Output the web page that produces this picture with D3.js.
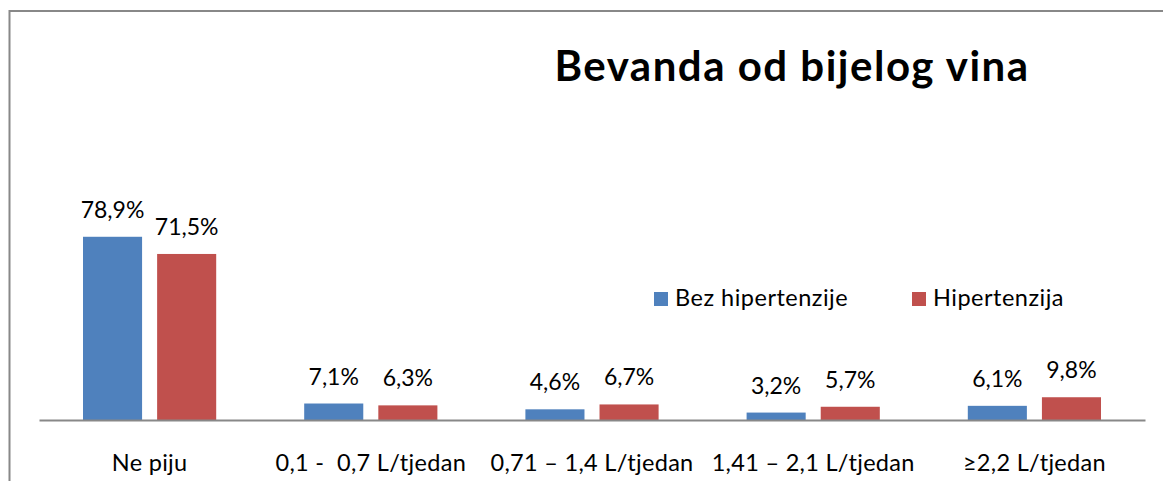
<!DOCTYPE html>
<html>
<head>
<meta charset="utf-8">
<script src="https://cdn.jsdelivr.net/npm/d3@7"></script>
<style>
  body { margin: 0; background: #fff; }
  svg { display: block; font-family: Lato, "Open Sans", sans-serif; }
  text { white-space: pre; }
</style>
</head>
<body>
<div id="chart"></div>
<script>
// ---- data ----
const categories = ['Ne piju', '0,1 -  0,7 L/tjedan', '0,71 \u2013 1,4 L/tjedan', '1,41 \u2013 2,1 L/tjedan', '\u22652,2 L/tjedan'];
const seriesNames = ['Bez hipertenzije', 'Hipertenzija'];
const bezHipertenzije = [78.9, 7.1, 4.6, 3.2, 6.1];
const hipertenzija = [71.5, 6.3, 6.7, 5.7, 9.8];
const colors = ['#4F81BD', '#C0504D'];
const title = 'Bevanda od bijelog vina';

// ---- dimensions ----
const width = 1163, height = 481;
const plot = { left: 39, right: 1145, bottom: 420, top: 211 };

const svg = d3.select('#chart').append('svg')
  .attr('width', width)
  .attr('height', height);

// outer frame (right/bottom edges fall outside the window)
svg.append('rect')
  .attr('x', 9.5).attr('y', 11)
  .attr('width', 1300).attr('height', 600)
  .attr('fill', 'none')
  .attr('stroke', '#888')
  .attr('stroke-width', 2);

const x0 = d3.scaleBand()
  .domain(categories)
  .range([plot.left, plot.right]);

const x1 = d3.scaleBand()
  .domain(seriesNames)
  .range([44, x0.bandwidth() - 44])
  .paddingInner(0.203);

const y = d3.scaleLinear()
  .domain([0, 90])
  .range([plot.bottom, plot.top]);

const rows = categories.map((c, i) => ({
  cat: c,
  vals: [
    { s: seriesNames[0], v: bezHipertenzije[i], c: colors[0] },
    { s: seriesNames[1], v: hipertenzija[i], c: colors[1] }
  ]
}));

const groups = svg.selectAll('g.group')
  .data(rows)
  .enter()
  .append('g')
    .attr('class', 'group')
    .attr('transform', d => 'translate(' + x0(d.cat) + ',0)');

groups.selectAll('rect')
  .data(d => d.vals)
  .enter()
  .append('rect')
    .attr('x', d => x1(d.s))
    .attr('y', d => y(d.v))
    .attr('width', x1.bandwidth())
    .attr('height', d => y(0) - y(d.v))
    .attr('fill', d => d.c);

// value labels
groups.selectAll('text.val')
  .data(d => d.vals)
  .enter()
  .append('text')
    .attr('class', 'val')
    .attr('x', d => x1(d.s) + x1.bandwidth() / 2)
    .attr('y', d => y(d.v) - 19)
    .attr('text-anchor', 'middle')
    .style('font-size', '23px')
    .attr('fill', '#000')
    .text(d => d3.format('.1f')(d.v).replace('.', ',') + '%');

// x axis (baseline + category labels)
const xAxis = svg.append('g')
  .attr('transform', 'translate(0,' + plot.bottom + ')')
  .call(d3.axisBottom(x0).tickSize(0).tickPadding(34));
xAxis.select('.domain').attr('stroke', '#888').attr('stroke-width', 2);
xAxis.selectAll('text')
  .style('font-size', '23.5px')
  .style('letter-spacing', '0.3px')
  .style('font-family', 'Lato, "Open Sans", sans-serif')
  .attr('fill', '#000');

// title
svg.append('text')
  .attr('x', 792)
  .attr('y', 81)
  .attr('text-anchor', 'middle')
  .style('font-size', '42px')
  .style('letter-spacing', '1.5px')
  .style('font-weight', 'bold')
  .text(title);

// legend
const legendX = [654, 912];
const legend = svg.selectAll('g.legend')
  .data(seriesNames)
  .enter()
  .append('g')
    .attr('class', 'legend')
    .attr('transform', (d, i) => 'translate(' + legendX[i] + ',292)');
legend.append('rect')
  .attr('width', 14).attr('height', 14)
  .attr('fill', (d, i) => colors[i]);
legend.append('text')
  .attr('x', 21)
  .attr('y', 14)
  .style('font-size', '23.5px')
  .style('letter-spacing', '0.5px')
  .text(d => d);
</script>
</body>
</html>
